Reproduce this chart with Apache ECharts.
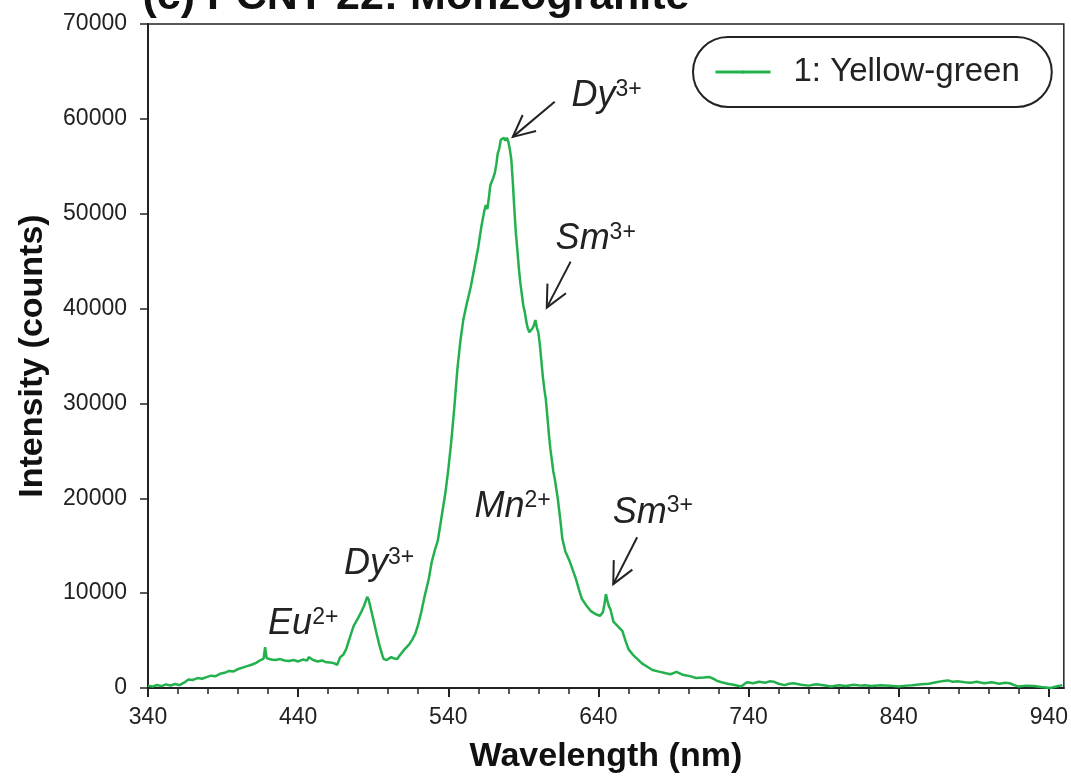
<!DOCTYPE html>
<html>
<head>
<meta charset="utf-8">
<script src="https://cdn.jsdelivr.net/npm/echarts@6/dist/echarts.min.js"></script>
<style>
  html, body { margin: 0; padding: 0; background: #fff; }
  #main { width: 1071px; height: 779px; }
</style>
</head>
<body>
<div id="main"></div>
<script>
// spectrum
var wavelength = [
  340,343,346,349,352,355,358,361,364,367,
  370,373,376,379,382,385,388,391,394,397,
  400,403,406,409,412,415,417,418,419,422,
  425,428,431,434,437,440,443,446,447,450,
  453,456,458,461,464,466,467,468,470,472,
  475,477,480,482,484,486,487,488,490,492,
  494,496,497,499,502,504,506,508,511,514,
  516,518,520,522,524,527,529,531,533,536,
  538,540,542,544,546,548,550,552,555,558,
  560,562,564,565,566,567,568,570,571,572,
  573,574,575,576,577,578,579,580,581,582,
  583,584,585,586,587,588,589,590,591,592,
  593,594,595,596,597,598,599,600,601,602,
  603,604,605,606,607,608,610,611,613,615,
  616,618,621,623,625,627,629,632,635,638,
  641,642,643,644,645,646,647,648,650,653,
  656,658,660,663,666,669,672,676,681,685,
  688,692,696,701,705,710,714,717,719,722,
  726,730,735,739,743,747,751,754,757,760,
  764,767,770,775,780,785,790,795,800,805,
  810,815,817,822,828,834,840,845,849,855,
  860,865,870,873,876,880,884,888,892,897,
  902,907,911,914,917,920,925,930,935,941,
  945,949
];
var intensity = [
  250,150,320,200,380,260,420,300,560,900,
  850,1050,980,1150,1300,1250,1500,1600,1800,1750,
  2000,2150,2300,2450,2650,2950,3100,4300,3150,3000,
  2950,3050,2900,2850,2950,2800,3000,2900,3250,2950,
  2800,2900,2750,2700,2600,2450,2350,3250,3500,4100,
  5600,6550,7400,8000,8700,9600,9300,8650,7300,5900,
  4600,3500,3050,2950,3250,3100,3050,3500,4100,4600,
  5100,5700,6700,8000,9500,11500,13300,14500,15500,18500,
  20500,23000,26000,29500,33500,36500,38800,40300,42300,44800,
  46500,48600,50300,50900,50500,51600,53000,53800,54300,55200,
  56400,56900,57800,57600,58000,57700,58000,57600,56800,55700,
  53300,50500,48000,46200,44300,42700,41500,40300,39600,38600,
  37900,37500,37300,37900,38200,38800,38000,37500,36200,34500,
  32800,31500,30400,28600,26800,25200,22800,22000,19900,17200,
  15700,14400,13300,12400,11500,10400,9400,8700,8100,7800,
  7600,7400,8000,8800,9900,9200,8600,8300,7000,6500,
  6000,5000,4100,3500,3050,2600,2300,1900,1700,1550,
  1450,1700,1400,1250,1050,1100,1150,950,750,600,
  450,350,150,600,500,650,550,700,650,450,
  300,450,500,350,250,400,300,150,300,200,
  350,250,300,200,300,250,150,250,300,400,
  450,600,750,800,650,700,600,550,650,500,
  600,450,550,500,300,150,250,200,100,0,
  150,300
];

var xMajorTicks = [340, 440, 540, 640, 740, 840, 940];
var xMinorTicks = [360, 380, 400, 420, 460, 480, 500, 520, 560, 580, 600, 620,
  660, 680, 700, 720, 760, 780, 800, 820, 860, 880, 900, 920];

// peak labels: main text, superscript, top-left corner in data units
var labelMain = ['Dy', 'Sm', 'Mn', 'Sm', 'Dy', 'Eu'];
var labelSup = ['3+', '3+', '2+', '3+', '3+', '2+'];
var labelPos = [[622, 64300], [611.5, 49200], [557.5, 20950], [649.5, 20400], [470.5, 14950], [420, 8630]];
// arrows: tail -> tip in data units
var arrowFrom = [[610.9, 61800], [621.5, 44950], [665.8, 15900]];
var arrowTo = [[583.0, 58100], [605.6, 40100], [649.9, 10950]];

var seriesName = '1: Yellow-green';
var FONT = 'Liberation Sans, Arial, sans-serif';
var GREEN = '#22B14C';

var chart = echarts.init(document.getElementById('main'));

var option = {
  animation: false,
  backgroundColor: '#fff',
  grid: {
    left: 148, right: 2, top: 24, bottom: 90,
    show: true, borderColor: '#222', borderWidth: 1.5
  },
  legend: {
    data: [seriesName],
    left: 693, top: 37,
    itemWidth: 55, itemHeight: 4,
    lineStyle: { width: 3, color: GREEN },
    borderColor: '#222', borderWidth: 2, borderRadius: 36,
    padding: [17, 32, 17, 21],
    textStyle: { fontFamily: FONT, fontSize: 33, color: '#222', lineHeight: 36, padding: [0, 0, 0, 18] }
  },
  xAxis: [{
    type: 'value', position: 'bottom',
    min: 340, max: 950,
    name: 'Wavelength (nm)', nameLocation: 'middle', nameGap: 52,
    nameTextStyle: { fontFamily: FONT, fontSize: 34, fontWeight: 'bold', color: '#111' },
    axisLine: { show: true, lineStyle: { color: '#222', width: 2 } },
    axisTick: { show: true, length: 9, lineStyle: { color: '#222', width: 2 }, customValues: xMajorTicks },
    axisLabel: { fontFamily: FONT, fontSize: 23, color: '#222', margin: 18, customValues: xMajorTicks },
    splitLine: { show: false }
  }, {
    type: 'value', position: 'bottom',
    min: 340, max: 950,
    axisLine: { show: false },
    axisTick: { show: true, length: 6, lineStyle: { color: '#222', width: 1.5 }, customValues: xMinorTicks },
    axisLabel: { show: false },
    splitLine: { show: false }
  }],
  yAxis: {
    type: 'value',
    min: 0, max: 70000, interval: 10000,
    name: 'Intensity (counts)', nameLocation: 'middle', nameGap: 98, nameRotate: 90,
    nameTextStyle: { fontFamily: FONT, fontSize: 34, fontWeight: 'bold', color: '#111' },
    axisLine: { show: true, lineStyle: { color: '#222', width: 2 } },
    axisTick: { show: true, length: 8, lineStyle: { color: '#222', width: 1.5 } },
    axisLabel: {
      fontFamily: FONT, fontSize: 23, color: '#222', margin: 21,
      formatter: function (v) { return String(v); }
    },
    splitLine: { show: false }
  },
  series: [{
    name: seriesName,
    type: 'line',
    xAxisIndex: 0,
    symbol: 'none',
    data: wavelength.map(function (w, i) { return [w, intensity[i]]; }),
    lineStyle: { color: GREEN, width: 2.5 },
    itemStyle: { color: GREEN }
  }]
};
chart.setOption(option);

function toPx(p) {
  return chart.convertToPixel({ xAxisIndex: 0, yAxisIndex: 0 }, p);
}

var graphics = [{
  type: 'text',
  style: {
    text: '(c) PCNT-22: Monzogranite',
    x: 416, y: -3,
    font: 'bold 43px ' + FONT,
    fill: '#111',
    align: 'center', verticalAlign: 'middle'
  }
}];

labelMain.forEach(function (m, i) {
  var p = toPx(labelPos[i]);
  graphics.push({
    type: 'text',
    style: {
      x: p[0], y: p[1],
      text: '{m|' + m + '}{s|' + labelSup[i] + '}',
      align: 'left', verticalAlign: 'top',
      rich: {
        m: { fontFamily: FONT, fontStyle: 'italic', fontSize: 36, lineHeight: 36, fill: '#222' },
        s: { fontFamily: FONT, fontSize: 23, lineHeight: 23, verticalAlign: 'top', fill: '#222' }
      }
    }
  });
});

arrowFrom.forEach(function (a, i) {
  var p0 = toPx(a), p1 = toPx(arrowTo[i]);
  var ang = Math.atan2(p0[1] - p1[1], p0[0] - p1[0]);
  var len = 24, spread = 0.45;
  graphics.push({
    type: 'line',
    shape: { x1: p0[0], y1: p0[1], x2: p1[0], y2: p1[1] },
    style: { stroke: '#222', lineWidth: 2 }
  });
  graphics.push({
    type: 'polyline',
    shape: { points: [
      [p1[0] + len * Math.cos(ang + spread), p1[1] + len * Math.sin(ang + spread)],
      [p1[0], p1[1]],
      [p1[0] + len * Math.cos(ang - spread), p1[1] + len * Math.sin(ang - spread)]
    ] },
    style: { stroke: '#222', lineWidth: 2, fill: null }
  });
});

chart.setOption({ graphic: graphics });
window.addEventListener('resize', chart.resize);
</script>
</body>
</html>
